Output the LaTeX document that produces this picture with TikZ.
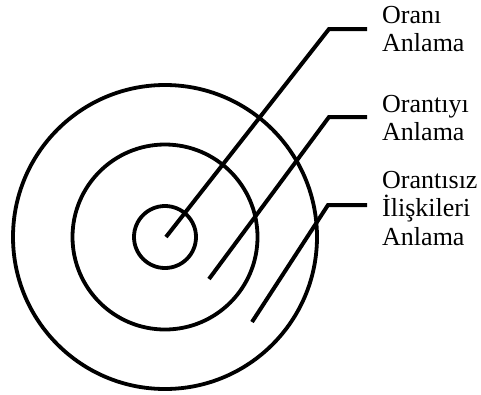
\documentclass[tikz,border=0pt]{standalone}
\usepackage{fontspec}
\setmainfont{Liberation Serif}
\usetikzlibrary{positioning,calc}
\tikzset{
  ring/.style={draw,line width=3.8pt},
  ldr/.style={draw,line width=4pt},
  lbl/.style={anchor=north west,inner sep=0pt,align=left,font=\fontsize{26}{28.5}\selectfont},
}
\begin{document}
\begin{tikzpicture}[x=1pt,y=-1pt]
  \useasboundingbox (0,0) rectangle (481,394);
  % target rings
  \coordinate (o) at (165,237);
  \draw[ring] (o) circle[radius=31];
  \draw[ring] (o) circle[radius=92.5];
  \draw[ring] (o) circle[radius=152];
  % leader start, bend and end points
  \coordinate (s1) at (166,237);
  \coordinate (k1) at (329,29);
  \coordinate (e1) at (367,29);
  \coordinate (s2) at (209,279);
  \coordinate (k2) at (329,117);
  \coordinate (e2) at (367,117);
  \coordinate (s3) at (252,322);
  \coordinate (k3) at (328,205);
  \coordinate (e3) at (367,205);
  % labels
  \node[lbl] (t1) at (382,6) {Oranı\\Anlama};
  \node[lbl] (t2) at (382,95) {Orantıyı\\Anlama};
  \node[lbl] (t3) at (382,171) {Orantısız\\İlişkileri\\Anlama};
  % leaders
  \draw[ldr] (s1) -- (k1) -- (e1);
  \draw[ldr] (s2) -- (k2) -- (e2);
  \draw[ldr] (s3) -- (k3) -- (e3);
\end{tikzpicture}
\end{document}
